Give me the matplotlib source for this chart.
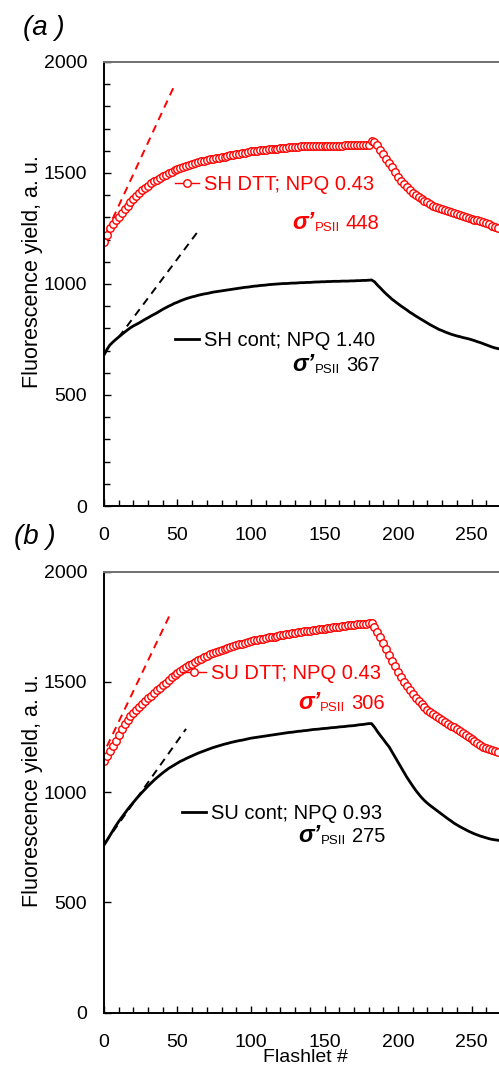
import numpy as np
import matplotlib
matplotlib.use("Agg")
from matplotlib import pyplot as plt
from matplotlib.ticker import MultipleLocator

plt.rcParams["font.family"] = ["Liberation Sans", "DejaVu Sans"]

# flashlet number (every 2nd flashlet)
flashlet = np.arange(0, 270, 2)

sh_dtt = [1190, 1222, 1250, 1270, 1287, 1303, 1320, 1337, 1353, 1370,
          1384, 1397, 1410, 1422, 1433, 1443, 1453, 1462, 1470, 1478,
          1486, 1493, 1500, 1506, 1512, 1517, 1523, 1528, 1533, 1537,
          1541, 1545, 1549, 1552, 1555, 1558, 1561, 1564, 1566, 1569,
          1572, 1574, 1577, 1580, 1582, 1585, 1587, 1589, 1592, 1595,
          1597, 1598, 1600, 1602, 1603, 1604, 1606, 1607, 1608, 1610,
          1611, 1612, 1614, 1615, 1616, 1618, 1619, 1620, 1620, 1620,
          1621, 1621, 1621, 1622, 1622, 1622, 1622, 1623, 1623, 1623,
          1623, 1623, 1624, 1624, 1624, 1624, 1625, 1625, 1625, 1625,
          1628, 1645, 1640, 1625, 1605, 1585, 1565, 1545, 1525, 1503,
          1480, 1463, 1450, 1437, 1424, 1412, 1402, 1392, 1382, 1374,
          1367, 1360, 1353, 1347, 1342, 1337, 1332, 1328, 1323, 1319,
          1315, 1310, 1306, 1302, 1298, 1294, 1290, 1287, 1283, 1280,
          1275, 1269, 1262, 1256, 1251]
sh_cont = [680, 705, 725, 738, 750, 761, 772, 783, 793, 803,
           811, 818, 825, 833, 841, 848, 856, 863, 870, 878,
           886, 893, 900, 906, 913, 918, 924, 929, 934, 938,
           942, 945, 949, 952, 955, 957, 960, 963, 965, 967,
           969, 971, 973, 975, 977, 979, 981, 983, 985, 986,
           988, 990, 991, 993, 994, 995, 997, 998, 999, 1000,
           1001, 1002, 1002, 1003, 1004, 1004, 1005, 1006, 1006, 1007,
           1007, 1008, 1009, 1009, 1010, 1010, 1011, 1011, 1012, 1012,
           1012, 1013, 1013, 1013, 1014, 1014, 1015, 1015, 1016, 1016,
           1017, 1018, 1010, 995, 982, 968, 955, 943, 931, 921,
           911, 901, 892, 883, 873, 865, 856, 848, 840, 832,
           824, 816, 809, 802, 795, 790, 784, 779, 774, 770,
           766, 763, 759, 756, 753, 749, 745, 740, 736, 731,
           726, 721, 716, 712, 709]
su_dtt = [1140, 1163, 1187, 1210, 1233, 1258, 1285, 1307, 1327, 1345,
          1360, 1375, 1388, 1401, 1413, 1425, 1438, 1451, 1463, 1474,
          1485, 1495, 1508, 1521, 1532, 1542, 1551, 1559, 1567, 1575,
          1583, 1591, 1599, 1606, 1613, 1619, 1625, 1631, 1636, 1641,
          1646, 1650, 1654, 1658, 1662, 1666, 1670, 1674, 1678, 1681,
          1685, 1688, 1691, 1694, 1696, 1699, 1702, 1704, 1706, 1709,
          1711, 1713, 1716, 1718, 1720, 1723, 1725, 1727, 1729, 1731,
          1733, 1735, 1737, 1738, 1740, 1742, 1744, 1746, 1748, 1749,
          1751, 1753, 1755, 1757, 1758, 1759, 1761, 1762, 1763, 1765,
          1766, 1766, 1750, 1725, 1702, 1678, 1650, 1623, 1597, 1572,
          1547, 1523, 1500, 1480, 1462, 1445, 1428, 1412, 1398, 1386,
          1375, 1365, 1355, 1345, 1336, 1326, 1318, 1310, 1302, 1294,
          1285, 1276, 1267, 1258, 1249, 1239, 1230, 1221, 1213, 1206,
          1200, 1195, 1190, 1186, 1183]
su_cont = [760, 781, 803, 825, 847, 867, 885, 903, 921, 938,
           954, 970, 985, 1000, 1014, 1028, 1041, 1054, 1066, 1077,
           1088, 1098, 1108, 1116, 1124, 1132, 1140, 1146, 1153, 1159,
           1165, 1171, 1177, 1182, 1187, 1192, 1197, 1202, 1206, 1210,
           1214, 1218, 1221, 1225, 1228, 1231, 1234, 1236, 1239, 1242,
           1245, 1247, 1249, 1251, 1253, 1255, 1257, 1259, 1261, 1263,
           1265, 1267, 1269, 1271, 1272, 1274, 1276, 1277, 1279, 1280,
           1282, 1284, 1285, 1286, 1288, 1289, 1290, 1292, 1293, 1294,
           1296, 1297, 1298, 1300, 1301, 1302, 1304, 1306, 1307, 1309,
           1311, 1311, 1295, 1275, 1257, 1240, 1222, 1205, 1182, 1160,
           1137, 1113, 1090, 1068, 1048, 1028, 1009, 992, 976, 962,
           950, 939, 929, 919, 909, 899, 889, 879, 870, 860,
           852, 844, 837, 830, 823, 817, 811, 806, 801, 797,
           793, 789, 786, 784, 782]

# initial-slope lines: (flashlet start, end), (yield start, end)
sh_dtt_slope = ([2, 47.8], [1238, 1892])
sh_cont_slope = ([10, 63.5], [760, 1233])
su_dtt_slope = ([2, 45.3], [1208, 1811])
su_cont_slope = ([0.7, 55.8], [770, 1287])

panel_a = dict(tag="(a )", dtt=sh_dtt, cont=sh_cont,
               dtt_slope=sh_dtt_slope, cont_slope=sh_cont_slope,
               dtt_label="SH DTT; NPQ 0.43", cont_label="SH cont; NPQ 1.40",
               dtt_sigma="448", cont_sigma="367")
panel_b = dict(tag="(b )", dtt=su_dtt, cont=su_cont,
               dtt_slope=su_dtt_slope, cont_slope=su_cont_slope,
               dtt_label="SU DTT; NPQ 0.43", cont_label="SU cont; NPQ 0.93",
               dtt_sigma="306", cont_sigma="275")


def sigma_label(ax, x, y, value, color):
    # "σ'PSII value", right aligned at x (axes fraction), baseline at y
    num = ax.text(x, y, value, color=color, fontsize=14.5, ha="right",
                  va="baseline", transform=ax.transAxes)
    sub = ax.annotate("PSII", xy=(0, 0), xycoords=num, xytext=(-6, -1),
                      textcoords="offset pixels", ha="right", va="bottom",
                      fontsize=9.5, color=color)
    ax.annotate("\u03c3\u2019", xy=(0, 0), xycoords=sub, xytext=(0, 0),
                textcoords="offset pixels", ha="right", va="bottom",
                fontsize=17, style="italic", weight="bold", color=color)


def plot_panel(ax, p, minor_y, leg_x, leg_y, sig_x, sig_y):
    ax.plot(*p["dtt_slope"], color="red", ls=(0, (4, 3)), lw=1.4)
    ax.plot(*p["cont_slope"], color="black", ls=(0, (4, 3)), lw=1.4)
    h_cont, = ax.plot(flashlet, p["cont"], color="black", lw=2)
    h_dtt, = ax.plot(flashlet, p["dtt"], color="red", lw=1, marker="o",
                     ms=5.4, mfc="white", mec="red", mew=1.0)

    ax.set_xlim(0, 268.7)
    ax.set_ylim(0, 2000)
    ax.xaxis.set_major_locator(MultipleLocator(50))
    ax.xaxis.set_minor_locator(MultipleLocator(10))
    ax.yaxis.set_major_locator(MultipleLocator(500))
    if minor_y:
        ax.yaxis.set_minor_locator(MultipleLocator(100))
    ax.tick_params(which="major", direction="in", length=5, width=1,
                   labelsize=14)
    ax.tick_params(which="minor", direction="in", length=4, width=1)
    ax.tick_params(axis="y", pad=12)
    ax.tick_params(axis="x", pad=15)
    ax.spines["right"].set_visible(False)
    ax.spines["top"].set_color("#707070")
    for s in ("left", "bottom", "top"):
        ax.spines[s].set_linewidth(1.4)

    leg_kw = dict(loc="center left", frameon=False, borderpad=0,
                  borderaxespad=0, handlelength=1.2, handletextpad=0.25,
                  fontsize=14.5)
    l1 = ax.legend([h_dtt], [p["dtt_label"]], labelcolor="red",
                   bbox_to_anchor=(leg_x, leg_y[0]), **leg_kw)
    ax.add_artist(l1)
    ax.legend([h_cont], [p["cont_label"]], labelcolor="black",
              bbox_to_anchor=(leg_x, leg_y[1]), **leg_kw)

    sigma_label(ax, sig_x, sig_y[0], p["dtt_sigma"], "red")
    sigma_label(ax, sig_x, sig_y[1], p["cont_sigma"], "black")


fig = plt.figure(figsize=(4.99, 10.68), dpi=100)
ax_a = fig.add_axes([0.2084, 0.5262, 0.7916, 0.4158])
ax_b = fig.add_axes([0.2084, 0.0518, 0.7916, 0.4129])

plot_panel(ax_a, panel_a, True, 0.18, (0.723, 0.372), 0.698, (0.623, 0.303))
plot_panel(ax_b, panel_b, False, 0.197, (0.770, 0.452), 0.712, (0.688, 0.386))

for ax, yc in ((ax_a, 0.527), (ax_b, 0.503)):
    ax.set_ylabel("Fluorescence yield, a. u.", fontsize=15.5)
    ax.yaxis.set_label_coords(-0.155, yc)

ax_b.set_xlabel("Flashlet #", fontsize=14)
ax_b.xaxis.set_label_coords(0.509, -0.083)

fig.text(0.046, 0.974, panel_a["tag"], fontsize=20, style="italic",
         ha="left", va="center")
fig.text(0.028, 0.497, panel_b["tag"], fontsize=20, style="italic",
         ha="left", va="center")

fig.savefig("out.png", dpi=100)
